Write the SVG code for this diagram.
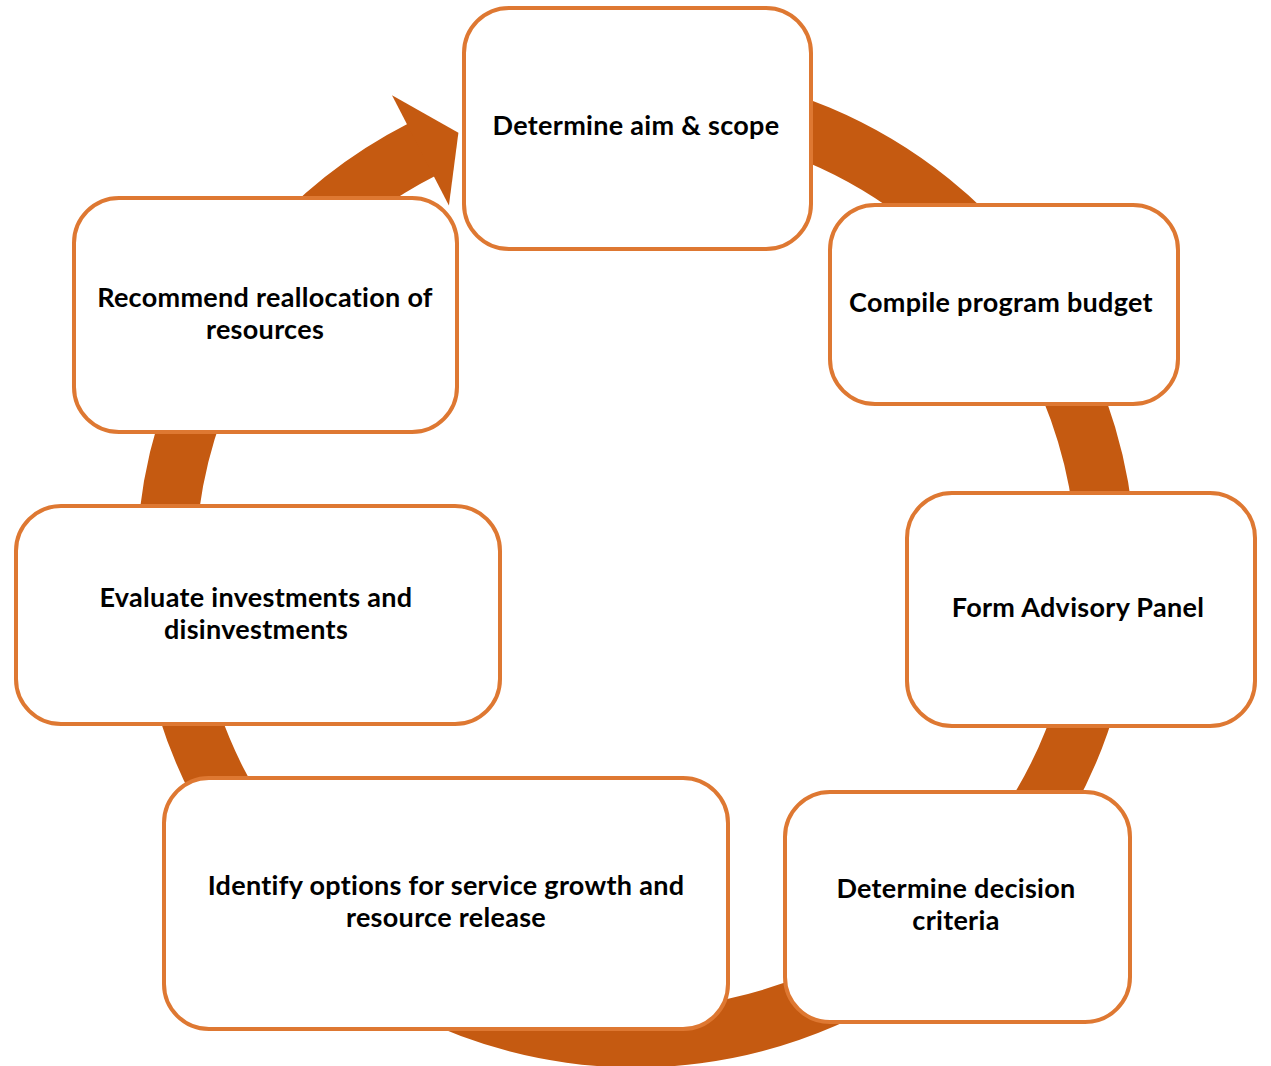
<svg xmlns="http://www.w3.org/2000/svg" width="1271" height="1066" viewBox="0 0 1271 1066">
<style>
.box{fill:#FFFFFF;stroke:#DE7832;stroke-width:4}
.lbl{font-family:Lato,"Liberation Sans",sans-serif;font-weight:bold;font-size:27px;letter-spacing:0.3px;fill:#000000;text-anchor:middle}
.ring{fill:none;stroke:#C55A11;stroke-width:59}
.head{fill:#C55A11}
</style>
<rect width="1271" height="1066" fill="#FFFFFF"/>
<g id="connectors">
<path class="ring" d="M 475.3 126.3 A 470 470 0 1 1 422.6 149.2"/>
<polygon class="head" points="392,95.3 458.4,132.8 448.9,205.5"/>
</g>
<g id="node-aim">
<rect class="box" x="464" y="8" width="347" height="241" rx="45"/>
<text class="lbl" x="636" y="135">Determine aim &amp; scope</text>
</g>
<g id="node-compile">
<rect class="box" x="830" y="205" width="348" height="199" rx="45"/>
<text class="lbl" x="1001" y="312">Compile program budget</text>
</g>
<g id="node-form">
<rect class="box" x="907" y="493" width="348" height="233" rx="45"/>
<text class="lbl" x="1078" y="617">Form Advisory Panel</text>
</g>
<g id="node-decision">
<rect class="box" x="785" y="792" width="345" height="230" rx="45"/>
<text class="lbl" x="956" y="898">Determine decision</text>
<text class="lbl" x="956" y="930">criteria</text>
</g>
<g id="node-identify">
<rect class="box" x="164" y="778" width="564" height="251" rx="45"/>
<text class="lbl" x="446" y="895">Identify options for service growth and</text>
<text class="lbl" x="446" y="927">resource release</text>
</g>
<g id="node-evaluate">
<rect class="box" x="16" y="506" width="484" height="218" rx="45"/>
<text class="lbl" x="256" y="607">Evaluate investments and</text>
<text class="lbl" x="256" y="639">disinvestments</text>
</g>
<g id="node-recommend">
<rect class="box" x="74" y="198" width="383" height="234" rx="45"/>
<text class="lbl" x="265" y="307">Recommend reallocation of</text>
<text class="lbl" x="265" y="339">resources</text>
</g>
</svg>
